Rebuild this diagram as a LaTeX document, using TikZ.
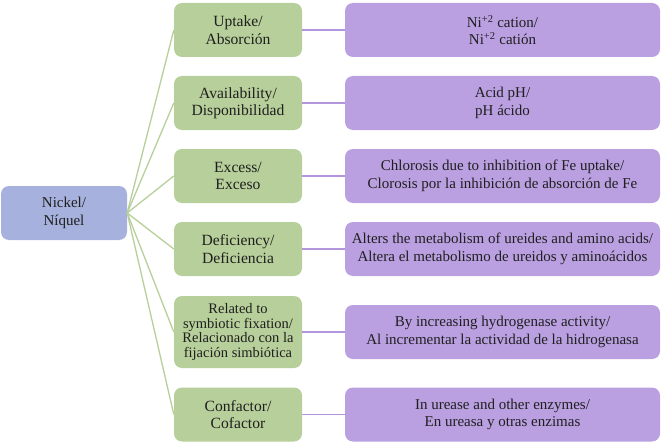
\documentclass[tikz,border=0pt]{standalone}
\usepackage{fontspec}
\setmainfont{Liberation Serif}
\begin{document}
\begin{tikzpicture}[x=1pt,y=-1pt,
  font=\fontsize{15}{17.5}\selectfont,
  base/.style={rounded corners=8pt, align=center, text=black!88, inner sep=0pt, minimum height=54pt},
  nickelbox/.style={base, fill=nickelc, minimum width=126pt},
  greenbox/.style={base, fill=greenc, minimum width=128pt, font=\fontsize{15.6}{17.5}\selectfont},
  purplebox/.style={base, fill=purplec, minimum width=315pt},
  gline/.style={draw=greenc, line width=1.3pt},
  pline/.style={draw=plinec, line width=1.8pt}]
\definecolor{nickelc}{RGB}{167,177,221}
\definecolor{greenc}{RGB}{183,207,154}
\definecolor{purplec}{RGB}{186,160,225}
\definecolor{plinec}{RGB}{180,150,222}
\useasboundingbox (0,0) rectangle (664,444);
\node[nickelbox] (ni) at (64,213) {Nickel/\\Níquel};
\node[greenbox] (g1) at (238,30) {Uptake/\\Absorción};
\node[greenbox] (g2) at (238,103) {Availability/\\Disponibilidad};
\node[greenbox] (g3) at (238,176) {Excess/\\Exceso};
\node[greenbox] (g4) at (238,249) {Deficiency/\\Deficiencia};
\node[greenbox, minimum height=72pt, font=\fontsize{14.5}{14.5}\selectfont] (g5) at (238,332) {Related to\\symbiotic fixation/\\Relacionado con la\\fijación simbiótica};
\node[greenbox] (g6) at (238,414.5) {Confactor/\\Cofactor};
\node[purplebox] (p1) at (502.5,30) {Ni\textsuperscript{+2} cation/\\Ni\textsuperscript{+2} catión};
\node[purplebox] (p2) at (502.5,103) {Acid pH/\\pH ácido};
\node[purplebox] (p3) at (502.5,176) {Chlorosis due to inhibition of Fe uptake/\\Clorosis por la inhibición de absorción de Fe};
\node[purplebox] (p4) at (502.5,249) {Alters the metabolism of ureides and amino acids/\\Altera el metabolismo de ureidos y aminoácidos};
\node[purplebox] (p5) at (502.5,332) {By increasing hydrogenase activity/\\Al incrementar la actividad de la hidrogenasa};
\node[purplebox] (p6) at (502.5,414.5) {In urease and other enzymes/\\En ureasa y otras enzimas};
\foreach \g in {g1,g2,g3,g4,g5,g6} \draw[gline] (ni.east) -- (\g.west);
\foreach \i in {1,...,6} \draw[pline] (g\i.east) -- (p\i.west);
\end{tikzpicture}
\end{document}
